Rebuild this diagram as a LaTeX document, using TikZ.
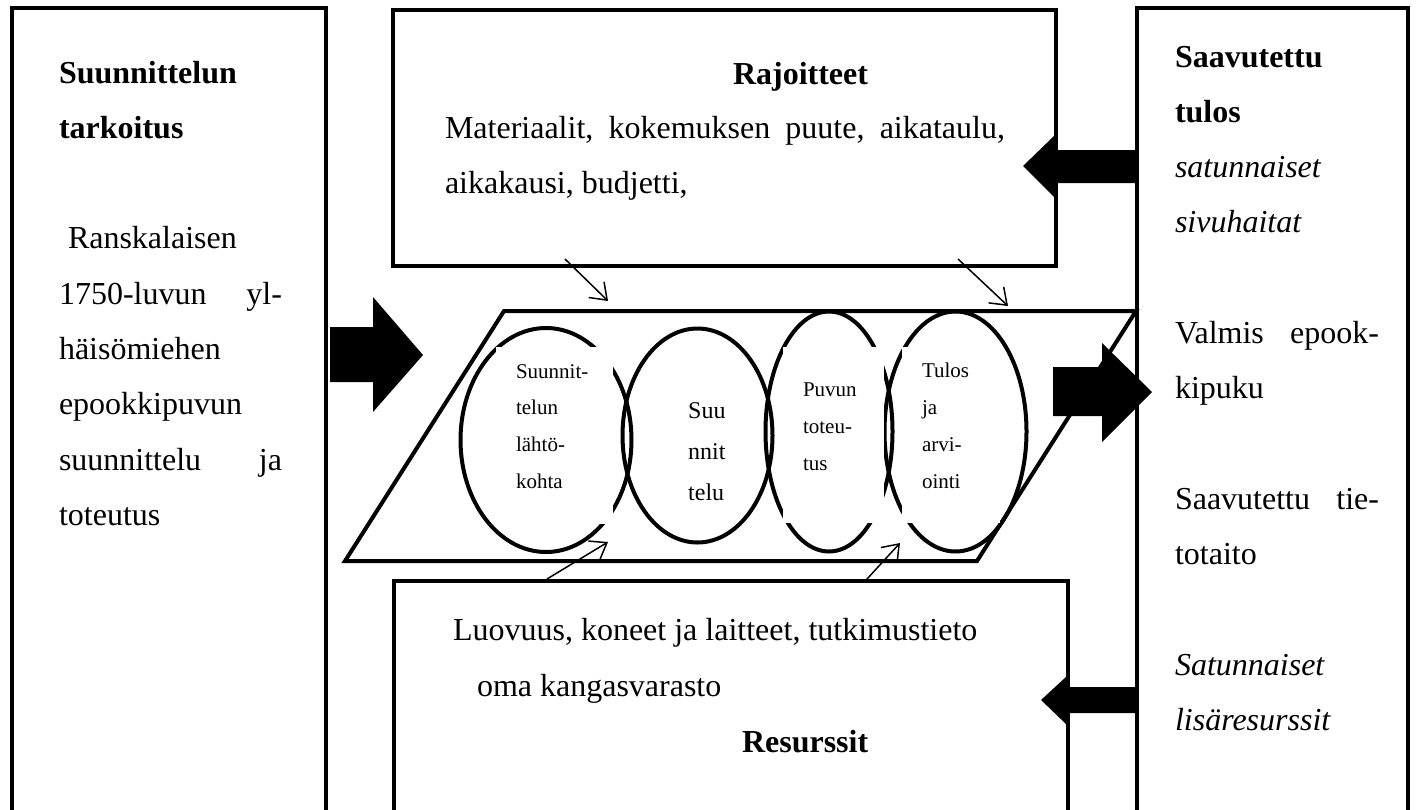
\documentclass[tikz,border=0pt]{standalone}
\usepackage{fontspec}
\setmainfont{Liberation Serif}
\usetikzlibrary{arrows.meta,shapes.geometric}
\tikzset{
  frame/.style={draw=black, line width=4.5pt, inner sep=0pt, outer sep=0pt, anchor=north west},
  oval/.style={ellipse, draw=black, line width=4pt, inner sep=0pt, outer sep=0pt},
  blank/.style={fill=white, inner sep=0pt, outer sep=0pt, anchor=north west},
  txt/.style={anchor=base west, inner sep=0pt, outer sep=0pt, font=\fontsize{32}{38}\selectfont},
  smalltxt/.style={anchor=base west, inner sep=0pt, outer sep=0pt, font=\fontsize{21}{26}\selectfont},
  fat/.style={fill=black, draw=none},
  thinarrow/.style={draw=black, line width=1.5pt, -{Straight Barb[length=15pt,width=22pt]}},
}
\begin{document}
\begin{tikzpicture}[x=1pt,y=-1pt]
\useasboundingbox (0,0) rectangle (1416,809);
\clip (0,0) rectangle (1416,809);

% central parallelogram
\draw[line width=4pt, line join=miter] (345,561) -- (504,311) -- (1136,311) -- (977,561) -- cycle;

% ellipses
\node[oval, minimum width=171pt, minimum height=224pt] (e1) at (546,440) {};
\node[oval, minimum width=150pt, minimum height=214pt] (e2) at (697.5,435.5) {};
\node[oval, minimum width=127pt, minimum height=240pt] (e3) at (829,431.5) {};
\node[oval, minimum width=142pt, minimum height=240pt] (e4) at (955.5,431.5) {};

% white label backgrounds
\node[blank, minimum width=117pt, minimum height=177pt] (w1) at (496,347) {};
\node[blank, minimum width=101pt, minimum height=176pt] (w3) at (783,347) {};
\node[blank, minimum width=98pt, minimum height=176pt] (w4) at (902,347) {};

% ellipse labels
\node[smalltxt] (t1) at (516,378) {\vtop{\baselineskip=36.7pt
  \hbox{Suunnit-}\hbox{telun}\hbox{lähtö-}\hbox{kohta}}};
\node[anchor=base west, inner sep=0pt, font=\fontsize{24}{28}\selectfont] (t2) at (688,418) {\vtop{\baselineskip=41pt
  \hbox{Suu}\hbox{nnit}\hbox{telu}}};
\node[smalltxt] (t3) at (803,396) {\vtop{\baselineskip=37pt
  \hbox{Puvun}\hbox{toteu-}\hbox{tus}}};
\node[smalltxt] (t4) at (922,377) {\vtop{\baselineskip=37pt
  \hbox{Tulos}\hbox{ja}\hbox{arvi-}\hbox{ointi}}};

% boxes
\node[frame, minimum width=314pt, minimum height=830pt] (lbox) at (12,8) {};
\node[frame, minimum width=663pt, minimum height=256pt] (tbox) at (393,10) {};
\node[frame, minimum width=271pt, minimum height=830pt] (rbox) at (1137,8) {};
\node[frame, minimum width=674pt, minimum height=260pt] (bbox) at (394,581) {};

% left box text
\node[txt] (ltext) at (59,83) {\vtop{\baselineskip=55.3pt
  \hbox{\bfseries Suunnittelun}
  \hbox{\bfseries tarkoitus}
  \hbox{}
  \hbox{\hspace{9pt}Ranskalaisen}
  \hbox to 223pt{1750-luvun\hfill yl-}
  \hbox{häisömiehen}
  \hbox{epookkipuvun}
  \hbox to 223pt{suunnittelu\hfill ja}
  \hbox{toteutus}}};

% top box text
\node[txt] (ttext) at (445,84) {\vtop{\baselineskip=54.5pt
  \hbox{\hspace{288pt}\bfseries Rajoitteet}
  \hbox to 560pt{Materiaalit,\hfill kokemuksen\hfill puute,\hfill aikataulu,}
  \hbox{aikakausi, budjetti,}}};

% bottom box text
\node[txt] (btext) at (453,640) {\vtop{\baselineskip=56pt
  \hbox{Luovuus, koneet ja laitteet, tutkimustieto}
  \hbox{\hspace{24pt}oma kangasvarasto}
  \hbox{\hspace{289pt}\bfseries Resurssit}}};

% right box text
\node[txt] (rtext) at (1175,67) {\vtop{\baselineskip=55.3pt
  \hbox{\bfseries Saavutettu}
  \hbox{\bfseries tulos}
  \hbox{\itshape satunnaiset}
  \hbox{\itshape sivuhaitat}
  \hbox{}
  \hbox to 204pt{Valmis\hfill epook-}
  \hbox{kipuku}
  \hbox{}
  \hbox to 204pt{Saavutettu\hfill tie-}
  \hbox{totaito}
  \hbox{}
  \hbox{\itshape Satunnaiset}
  \hbox{\itshape lisäresurssit}}};

% big block arrows
\fill[fat] (330,327) -- (373,327) -- (373,297) -- (423,355) -- (373,412) -- (373,382) -- (330,382) -- cycle;
\fill[fat] (1053,367) -- (1102,367) -- (1102,343) -- (1152,392) -- (1102,442) -- (1102,416) -- (1053,416) -- cycle;
\fill[fat] (1138,150) -- (1055,150) -- (1055,135) -- (1023,166) -- (1055,198) -- (1055,183) -- (1138,183) -- cycle;
\fill[fat] (1138,687) -- (1067,687) -- (1067,676) -- (1041,700) -- (1067,725) -- (1067,713) -- (1138,713) -- cycle;

% thin arrows
\coordinate (ta1) at (565,259);
\coordinate (pa1) at (608,301);
\coordinate (ta2) at (958,259);
\coordinate (pa2) at (1008,306);
\coordinate (ba1) at (547,579);
\coordinate (pb1) at (608,542);
\coordinate (ba2) at (867,579);
\coordinate (pb2) at (900,543);
\draw[thinarrow] (ta1) -- (pa1);
\draw[thinarrow] (ta2) -- (pa2);
\draw[thinarrow] (ba1) -- (pb1);
\draw[thinarrow] (ba2) -- (pb2);
\end{tikzpicture}
\end{document}
